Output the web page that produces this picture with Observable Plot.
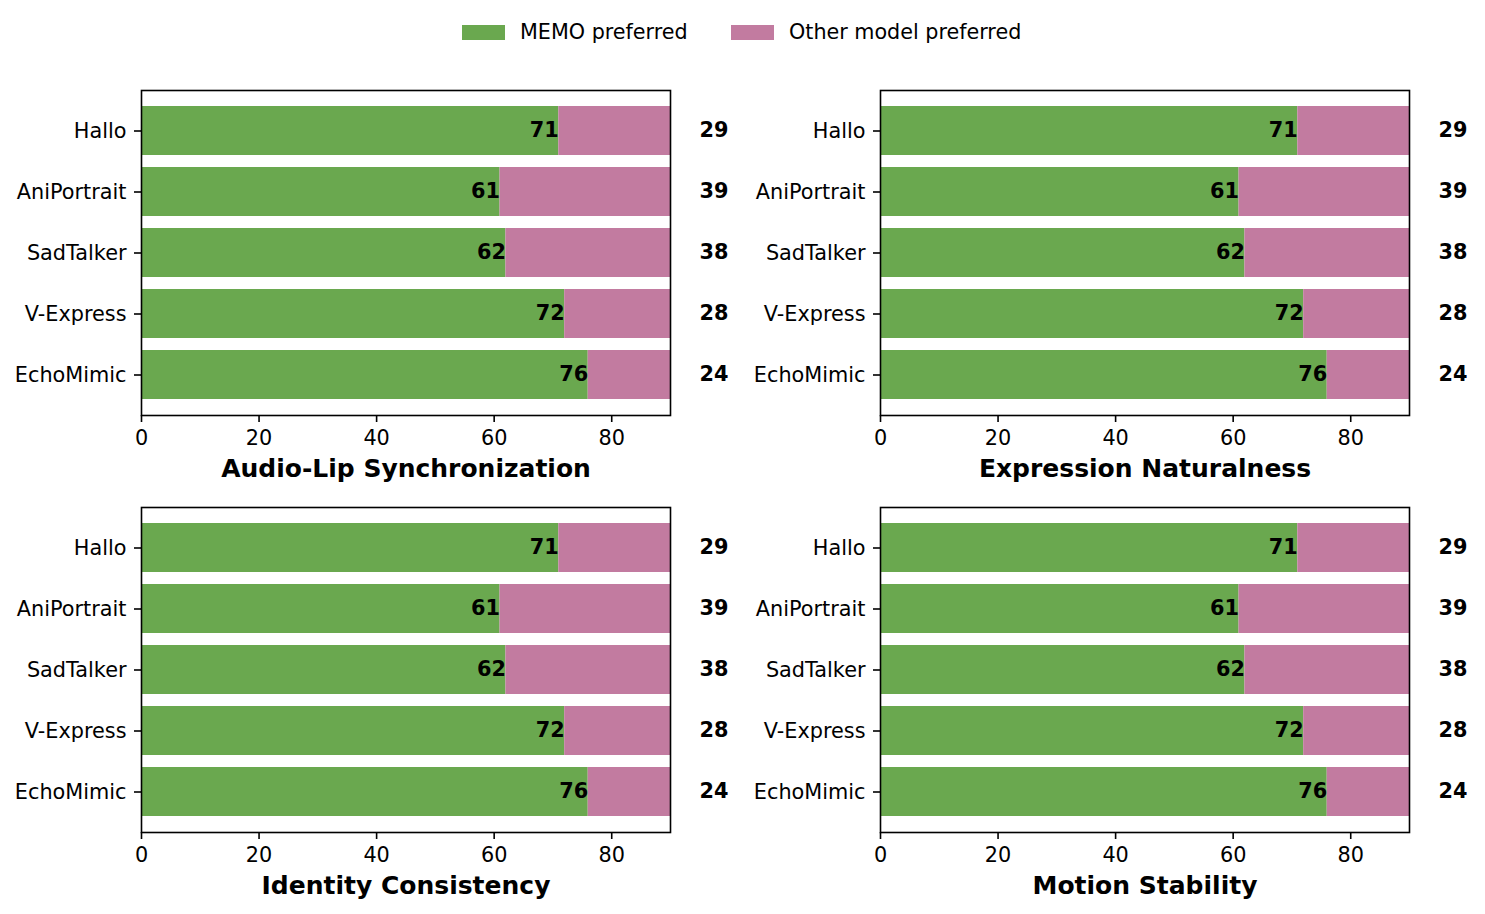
<!DOCTYPE html>
<html>
<head>
<meta charset="utf-8">
<script src="https://cdn.jsdelivr.net/npm/d3@7"></script>
<script src="https://cdn.jsdelivr.net/npm/@observablehq/plot@0.6"></script>
<style>
  html, body { margin: 0; padding: 0; background: #fff; }
  #root { position: relative; width: 1485px; height: 914px; font-family: "DejaVu Sans", sans-serif; }
  .panel { position: absolute; }
  #legend { position: absolute; top: 0; left: 0; width: 1485px; height: 64px; }
  .item { position: absolute; top: 20px; height: 24px; display: flex; align-items: center; font-size: 20.7px; color: #000; white-space: nowrap; }
  .sw { width: 43px; height: 15px; margin-right: 15px; }
</style>
</head>
<body>
<div id="root">
  <div id="legend"></div>
</div>
<script>
const models = ["Hallo", "AniPortrait", "SadTalker", "V-Express", "EchoMimic"];
const metrics = ["Audio-Lip Synchronization", "Expression Naturalness", "Identity Consistency", "Motion Stability"];
const memoPreferred = [
  [71, 61, 62, 72, 76],
  [71, 61, 62, 72, 76],
  [71, 61, 62, 72, 76],
  [71, 61, 62, 72, 76]
];
const otherPreferred = [
  [29, 39, 38, 28, 24],
  [29, 39, 38, 28, 24],
  [29, 39, 38, 28, 24],
  [29, 39, 38, 28, 24]
];
const seriesNames = ["MEMO preferred", "Other model preferred"];
const colors = ["#6aa84f", "#c27ba0"];
const xTicks = [0, 20, 40, 60, 80];
const xDomain = [0, 90];

// legend
const legend = document.getElementById("legend");
const legendX = [462, 731];
seriesNames.forEach((name, i) => {
  const it = document.createElement("div");
  it.className = "item";
  it.style.left = legendX[i] + "px";
  const sw = document.createElement("div");
  sw.className = "sw";
  sw.style.background = colors[i];
  it.appendChild(sw);
  const t = document.createElement("span");
  t.textContent = name;
  it.appendChild(t);
  legend.appendChild(it);
});

const root = document.getElementById("root");
const positions = [[0, 60], [739, 60], [0, 477], [739, 477]];
const FS = 20.8;

metrics.forEach((metric, k) => {
  const data = models.map((m, i) => ({
    model: m,
    memo: memoPreferred[k][i],
    other: otherPreferred[k][i]
  }));
  const chart = Plot.plot({
    width: 742,
    height: 430,
    marginLeft: 141,
    marginRight: 72,
    marginTop: 30,
    marginBottom: 75,
    style: { fontFamily: "DejaVu Sans, sans-serif", fontSize: FS + "px", color: "#000", background: "transparent", overflow: "visible" },
    x: { domain: xDomain },
    y: { domain: models, paddingInner: 0.2, paddingOuter: 0.24 },
    marks: [
      Plot.barX(data, { y: "model", x1: () => 0, x2: "memo", fill: colors[0] }),
      Plot.barX(data, { y: "model", x1: "memo", x2: d => d.memo + d.other, fill: colors[1], clip: true }),
      Plot.text(data, { y: "model", x: "memo", dy: -1, text: d => String(d.memo), textAnchor: "end", fontWeight: "bold", fontSize: FS, fill: "#000" }),
      Plot.text(data, { y: "model", frameAnchor: "right", dx: 29, dy: -1, text: d => String(d.other), textAnchor: "start", fontWeight: "bold", fontSize: FS, fill: "#000" }),
      Plot.axisY({ tickSize: 7, tickPadding: 8, strokeWidth: 1.6, label: null, fontSize: FS }),
      Plot.axisX({ ticks: xTicks, tickFormat: d => String(d), tickSize: 7, tickPadding: 8, strokeWidth: 1.6, label: null, fontSize: FS }),
      Plot.frame({ stroke: "#000", strokeWidth: 1.6 }),
      Plot.text([metric], { frameAnchor: "bottom", dy: 53, text: d => d, fontWeight: "bold", fontSize: 25, fill: "#000", lineAnchor: "middle" })
    ]
  });
  chart.classList.add("panel");
  chart.style.left = positions[k][0] + "px";
  chart.style.top = positions[k][1] + "px";
  chart.style.position = "absolute";
  root.appendChild(chart);
});
</script>
</body>
</html>
